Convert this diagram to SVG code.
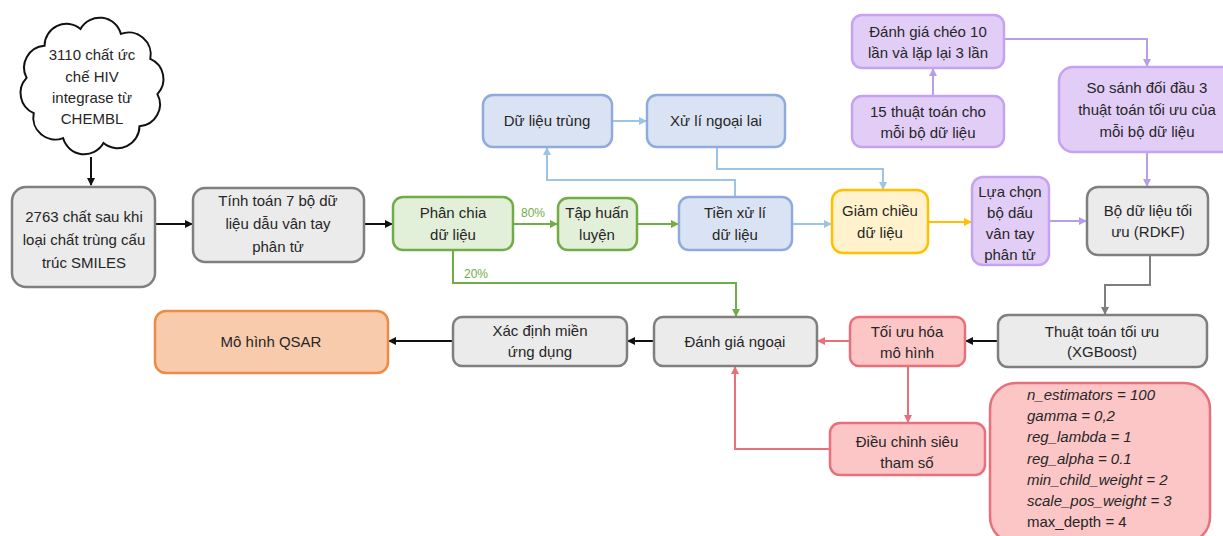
<svg xmlns="http://www.w3.org/2000/svg" width="1223" height="536" viewBox="0 0 1223 536">
<defs>
<style>
text{font-family:"Liberation Sans","DejaVu Sans",sans-serif;font-size:15px;fill:#262626;text-anchor:middle}
.gray{fill:#ebebeb;stroke:#7f7f7f;stroke-width:2.5}
.green{fill:#e2efd9;stroke:#70ad47;stroke-width:2.5}
.blue{fill:#dae3f3;stroke:#8faadc;stroke-width:2.5}
.yellow{fill:#fff2cc;stroke:#ffc000;stroke-width:2.5}
.purple{fill:#e2cdf7;stroke:#c6a3f0;stroke-width:2.5}
.red{fill:#fcc6c6;stroke:#e8707a;stroke-width:2.5}
.orange{fill:#f8cbad;stroke:#ed8b45;stroke-width:2.5}
.c{fill:none;stroke-width:2}
.cb{stroke:#111}.cg{stroke:#70ad47}.cbl{stroke:#9dc3e6}.cy{stroke:#ffc000}.cp{stroke:#b89ee6}.cgr{stroke:#7f7f7f}.cr{stroke:#e8707a}
.pct{font-size:12px;fill:#70ad47}
.par{text-anchor:start;font-style:italic}
</style>
<marker id="mb" markerWidth="8" markerHeight="8" refX="7" refY="4" orient="auto" markerUnits="userSpaceOnUse"><path d="M0,0L8,4L0,8Z" fill="#111"/></marker>
<marker id="mg" markerWidth="8" markerHeight="8" refX="7" refY="4" orient="auto" markerUnits="userSpaceOnUse"><path d="M0,0L8,4L0,8Z" fill="#70ad47"/></marker>
<marker id="mbl" markerWidth="8" markerHeight="8" refX="7" refY="4" orient="auto" markerUnits="userSpaceOnUse"><path d="M0,0L8,4L0,8Z" fill="#9dc3e6"/></marker>
<marker id="my" markerWidth="8" markerHeight="8" refX="7" refY="4" orient="auto" markerUnits="userSpaceOnUse"><path d="M0,0L8,4L0,8Z" fill="#ffc000"/></marker>
<marker id="mp" markerWidth="8" markerHeight="8" refX="7" refY="4" orient="auto" markerUnits="userSpaceOnUse"><path d="M0,0L8,4L0,8Z" fill="#b89ee6"/></marker>
<marker id="mgr" markerWidth="8" markerHeight="8" refX="7" refY="4" orient="auto" markerUnits="userSpaceOnUse"><path d="M0,0L8,4L0,8Z" fill="#7f7f7f"/></marker>
<marker id="mr" markerWidth="8" markerHeight="8" refX="7" refY="4" orient="auto" markerUnits="userSpaceOnUse"><path d="M0,0L8,4L0,8Z" fill="#e8707a"/></marker>
</defs>
<rect width="1223" height="536" fill="#fff"/>

<g id="connectors">
<path class="c cb" d="M91,157V185" marker-end="url(#mb)"/>
<path class="c cb" d="M155,224H192" marker-end="url(#mb)"/>
<path class="c cb" d="M364,224H392" marker-end="url(#mb)"/>
<path class="c cg" d="M513,224H557" marker-end="url(#mg)"/>
<path class="c cg" d="M637,224H678" marker-end="url(#mg)"/>
<path class="c cbl" d="M792,224H831" marker-end="url(#mbl)"/>
<path class="c cbl" d="M735,197V180H547V148" marker-end="url(#mbl)"/>
<path class="c cbl" d="M612,121H646" marker-end="url(#mbl)"/>
<path class="c cbl" d="M717,147V169H883V189" marker-end="url(#mbl)"/>
<path class="c cy" d="M928,222H971" marker-end="url(#my)"/>
<path class="c cp" d="M1049,221H1086" marker-end="url(#mp)"/>
<path class="c cp" d="M933,96V69" marker-end="url(#mp)"/>
<path class="c cp" d="M1004,39H1147V66" marker-end="url(#mp)"/>
<path class="c cp" d="M1147,152V186" marker-end="url(#mp)"/>
<path class="c cgr" d="M1150,255V285H1105V314" marker-end="url(#mgr)"/>
<path class="c cb" d="M998,341H966" marker-end="url(#mb)"/>
<path class="c cr" d="M850,341H818" marker-end="url(#mr)"/>
<path class="c cb" d="M654,341H628" marker-end="url(#mb)"/>
<path class="c cb" d="M453,341H389" marker-end="url(#mb)"/>
<path class="c cg" d="M453,250V283H736V316" marker-end="url(#mg)"/>
<path class="c cr" d="M908,366V422" marker-end="url(#mr)"/>
<path class="c cr" d="M830,449H735V367" marker-end="url(#mr)"/>
<text class="pct" x="533" y="217">80%</text>
<text class="pct" x="476" y="278">20%</text>
</g>

<g id="n-cloud">
<path d="M80.5,28.9A22,22 0 0 1 120.9,33.9A22,22 0 0 1 150.3,58.8A22,22 0 0 1 157.4,94.1A22,22 0 0 1 139.5,126.3A22,22 0 0 1 103.5,143.1A22,22 0 0 1 63.1,138.1A22,22 0 0 1 33.7,113.2A22,22 0 0 1 26.6,77.9A22,22 0 0 1 44.5,45.7A22,22 0 0 1 80.5,28.9Z" fill="#fff" stroke="#111" stroke-width="2"/>
<text x="92" y="60">3110 chất ức</text>
<text x="92" y="82">chế HIV</text>
<text x="92" y="103">integrase từ</text>
<text x="92" y="124">CHEMBL</text>
</g>

<g id="n-2763">
<rect class="gray" x="12" y="187" width="143" height="100" rx="14"/>
<text x="84" y="222">2763 chất sau khi</text>
<text x="84" y="245">loại chất trùng cấu</text>
<text x="84" y="268">trúc SMILES</text>
</g>

<g id="n-tinhtoan">
<rect class="gray" x="193" y="188" width="171" height="74" rx="12"/>
<text x="278" y="206">Tính toán 7 bộ dữ</text>
<text x="278" y="229">liệu dẫu vân tay</text>
<text x="278" y="252">phân tử</text>
</g>

<g id="n-phanchia">
<rect class="green" x="393" y="197" width="120" height="53" rx="10"/>
<text x="453" y="218">Phân chia</text>
<text x="453" y="240">dữ liệu</text>
</g>

<g id="n-taphuan">
<rect class="green" x="558" y="198" width="79" height="52" rx="10"/>
<text x="597" y="218">Tập huấn</text>
<text x="597" y="240">luyện</text>
</g>

<g id="n-tienxuli">
<rect class="blue" x="679" y="197" width="113" height="53" rx="10"/>
<text x="735" y="218">Tiền xử lí</text>
<text x="735" y="240">dữ liệu</text>
</g>

<g id="n-dulieutrung">
<rect class="blue" x="483" y="95" width="129" height="52" rx="10"/>
<text x="547" y="126">Dữ liệu trùng</text>
</g>

<g id="n-xulingoailai">
<rect class="blue" x="647" y="95" width="138" height="52" rx="10"/>
<text x="716" y="126">Xử lí ngoại lai</text>
</g>

<g id="n-giamchieu">
<rect class="yellow" x="832" y="190" width="96" height="63" rx="11"/>
<text x="880" y="216">Giảm chiều</text>
<text x="880" y="238">dữ liệu</text>
</g>

<g id="n-luachon">
<rect class="purple" x="972" y="177" width="77" height="88" rx="11"/>
<text x="1010" y="197">Lựa chọn</text>
<text x="1010" y="218">bộ dấu</text>
<text x="1010" y="239">vân tay</text>
<text x="1010" y="260">phân tử</text>
</g>

<g id="n-bodulieu">
<rect class="gray" x="1087" y="187" width="121" height="68" rx="11"/>
<text x="1148" y="216">Bộ dữ liệu tối</text>
<text x="1148" y="237">ưu (RDKF)</text>
</g>

<g id="n-danhgiacheo">
<rect class="purple" x="852" y="15" width="152" height="53" rx="10"/>
<text x="928" y="37">Đánh giá chéo 10</text>
<text x="928" y="58">lần và lặp lại 3 lần</text>
</g>

<g id="n-15thuattoan">
<rect class="purple" x="852" y="96" width="152" height="51" rx="10"/>
<text x="928" y="117">15 thuật toán cho</text>
<text x="928" y="138">mỗi bộ dữ liệu</text>
</g>

<g id="n-sosanh">
<rect class="purple" x="1059" y="67" width="180" height="85" rx="14"/>
<text x="1147" y="93">So sánh đối đầu 3</text>
<text x="1147" y="115">thuật toán tối ưu của</text>
<text x="1147" y="137">mỗi bộ dữ liệu</text>
</g>

<g id="n-thuattoantoiuu">
<rect class="gray" x="998" y="315" width="209" height="52" rx="10"/>
<text x="1102" y="337">Thuật toán tối ưu</text>
<text x="1102" y="357">(XGBoost)</text>
</g>

<g id="n-toiuuhoa">
<rect class="red" x="850" y="317" width="115" height="49" rx="9"/>
<text x="907" y="337">Tối ưu hóa</text>
<text x="907" y="358">mô hình</text>
</g>

<g id="n-danhgiangoai">
<rect class="gray" x="654" y="317" width="163" height="49" rx="9"/>
<text x="735" y="347">Đánh giá ngoại</text>
</g>

<g id="n-xacdinh">
<rect class="gray" x="453" y="317" width="174" height="49" rx="9"/>
<text x="540" y="336">Xác định miền</text>
<text x="540" y="357">ứng dụng</text>
</g>

<g id="n-qsar">
<rect class="orange" x="155" y="311" width="233" height="62" rx="11"/>
<text x="271" y="347">Mô hình QSAR</text>
</g>

<g id="n-dieuchinh">
<rect class="red" x="830" y="423" width="155" height="52" rx="10"/>
<text x="907" y="447">Điều chỉnh siêu</text>
<text x="907" y="468">tham số</text>
</g>

<g id="n-params">
<rect class="red" x="990" y="383" width="220" height="160" rx="26"/>
<text class="par" x="1027" y="400">n_estimators = 100</text>
<text class="par" x="1027" y="421">gamma = 0,2</text>
<text class="par" x="1027" y="442">reg_lambda = 1</text>
<text class="par" x="1027" y="464">reg_alpha = 0.1</text>
<text class="par" x="1027" y="485">min_child_weight = 2</text>
<text class="par" x="1027" y="506">scale_pos_weight = 3</text>
<text x="1027" y="527" style="text-anchor:start">max_depth = 4</text>
</g>
</svg>
